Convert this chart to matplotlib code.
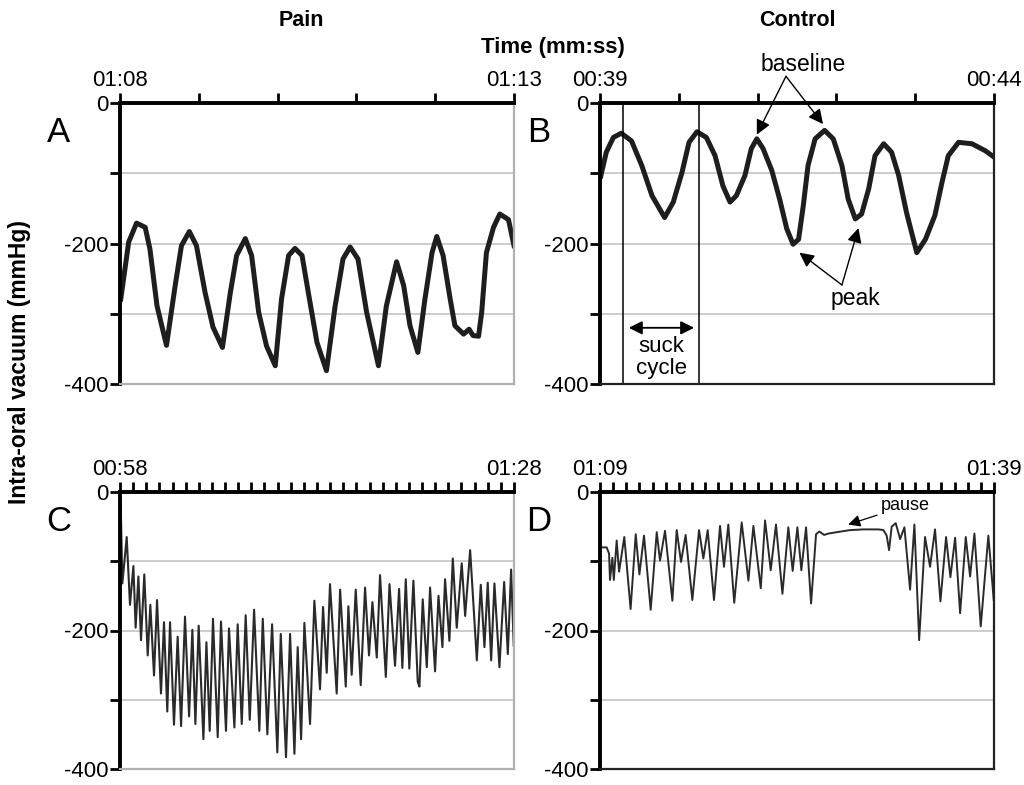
import matplotlib
matplotlib.use('Agg')
import matplotlib.pyplot as plt

plt.rcParams['font.family'] = ['Liberation Sans', 'DejaVu Sans']

# panel A - Pain, 01:08-01:13 (seconds from start, mmHg)
a_t = [0.01, 0.11, 0.21, 0.32, 0.38, 0.47, 0.59, 0.70, 0.78, 0.88, 0.97, 1.08, 1.18, 1.30,
       1.40, 1.48, 1.59, 1.67, 1.76, 1.86, 1.97, 2.05, 2.14, 2.22, 2.31, 2.39, 2.50, 2.62,
       2.73, 2.83, 2.92, 3.02, 3.13, 3.28, 3.38, 3.51, 3.60, 3.68, 3.78, 3.87, 3.96, 4.02,
       4.10, 4.19, 4.25, 4.36, 4.43, 4.48, 4.55, 4.59, 4.65, 4.74, 4.82, 4.93, 5.00]
a_v = [-279, -198, -171, -177, -208, -289, -345, -260, -203, -183, -203, -270, -319, -348,
       -270, -217, -193, -217, -298, -346, -374, -279, -217, -207, -217, -270, -341, -381,
       -289, -222, -205, -222, -298, -374, -289, -226, -260, -317, -355, -279, -213, -190,
       -217, -279, -317, -329, -322, -331, -332, -298, -213, -177, -158, -166, -203]

# panel B - Control, 00:39-00:44
b_t = [0.01, 0.08, 0.17, 0.27, 0.40, 0.53, 0.66, 0.82, 0.93, 1.04, 1.13, 1.23, 1.35, 1.46,
       1.56, 1.65, 1.73, 1.84, 1.92, 1.99, 2.07, 2.18, 2.28, 2.37, 2.45, 2.52, 2.58, 2.64,
       2.73, 2.85, 2.96, 3.07, 3.15, 3.24, 3.32, 3.41, 3.49, 3.60, 3.70, 3.79, 3.89, 4.02,
       4.13, 4.25, 4.34, 4.42, 4.55, 4.72, 4.89, 5.00]
b_v = [-104, -70, -49, -43, -54, -89, -132, -163, -141, -99, -56, -41, -49, -75,
       -118, -141, -132, -103, -65, -51, -65, -96, -137, -179, -201, -194, -146, -89,
       -51, -39, -51, -89, -137, -165, -158, -122, -75, -58, -70, -103, -156, -213,
       -194, -160, -113, -75, -56, -58, -68, -77]

# panel C - Pain, 00:58-01:28
c_t = [0.05, 0.18, 0.51, 0.76, 1.02, 1.19, 1.40, 1.60, 1.85, 2.11, 2.31, 2.59, 2.82, 3.12,
       3.35, 3.60, 3.81, 4.11, 4.39, 4.65, 4.95, 5.26, 5.51, 5.74, 5.99, 6.35, 6.58, 6.83,
       7.08, 7.44, 7.69, 8.07, 8.30, 8.71, 8.96, 9.27, 9.57, 9.88, 10.21, 10.61, 10.87, 11.22,
       11.58, 11.98, 12.24, 12.64, 12.95, 13.28, 13.53, 13.79, 14.04, 14.47, 14.80, 15.23, 15.46, 15.74,
       15.99, 16.50, 16.76, 17.19, 17.39, 17.64, 17.95, 18.33, 18.66, 18.96, 19.22, 19.55, 19.80, 20.24,
       20.52, 20.94, 21.25, 21.50, 21.76, 22.03, 22.34, 22.67, 22.80, 23.05, 23.36, 23.61, 23.99, 24.25,
       24.55, 24.75, 25.08, 25.34, 25.64, 26.02, 26.28, 26.66, 27.17, 27.47, 27.75, 28.00, 28.26, 28.51,
       28.89, 29.25, 29.53, 29.78, 29.98]
c_v = [-15, -132, -65, -163, -107, -196, -122, -214, -119, -236, -163, -265, -156, -291,
       -188, -317, -188, -336, -209, -338, -180, -324, -199, -335, -193, -357, -217, -345,
       -183, -354, -187, -345, -197, -340, -191, -335, -178, -329, -170, -345, -183, -350,
       -191, -376, -205, -383, -205, -378, -224, -357, -189, -335, -157, -285, -166, -261,
       -133, -291, -141, -281, -165, -264, -141, -279, -138, -236, -159, -239, -120, -267,
       -133, -251, -140, -254, -126, -255, -128, -274, -281, -155, -253, -138, -259, -150,
       -224, -126, -215, -96, -196, -103, -179, -84, -243, -134, -224, -131, -243, -132,
       -253, -130, -234, -112, -222]

# panel D - Control, 01:09-01:39
d_t = [0.0, 0.51, 0.69, 0.76, 0.94, 1.05, 1.27, 1.45, 1.85, 2.33, 2.72, 3.00, 3.35, 3.86,
       4.32, 4.57, 4.95, 5.51, 5.84, 6.17, 6.52, 7.03, 7.54, 7.87, 8.20, 8.68, 9.14, 9.44,
       9.77, 10.22, 10.79, 11.30, 11.68, 12.24, 12.57, 13.00, 13.40, 13.89, 14.34, 14.67, 15.03, 15.33,
       15.69, 16.07, 16.45, 16.70, 17.06, 17.39, 18.03, 19.04, 20.05, 21.20, 21.58, 21.83, 22.01, 22.21,
       22.52, 22.85, 23.18, 23.61, 23.94, 24.30, 24.75, 25.13, 25.51, 25.92, 26.35, 26.68, 27.04, 27.42,
       27.85, 28.18, 28.51, 28.99, 29.57, 29.98]
d_v = [-80, -80, -89, -127, -95, -127, -70, -115, -65, -169, -61, -119, -63, -170,
       -58, -99, -56, -157, -55, -101, -62, -156, -55, -96, -55, -156, -49, -108,
       -47, -160, -44, -128, -49, -139, -41, -113, -47, -147, -51, -114, -51, -113,
       -51, -161, -61, -57, -62, -60, -58, -55, -54, -54, -55, -63, -84, -50,
       -45, -68, -51, -141, -47, -214, -65, -108, -54, -158, -65, -123, -66, -175,
       -65, -122, -60, -194, -63, -156]

y_ticks = [0, -100, -200, -300, -400]
y_labels = ['0', '', '-200', '', '-400']
time_ends = {'A': ('01:08', '01:13'), 'B': ('00:39', '00:44'),
             'C': ('00:58', '01:28'), 'D': ('01:09', '01:39')}

fig = plt.figure(figsize=(10.24, 7.85), dpi=100)
W, H = 1024, 785
# left, top, height in pixels
boxes = {'A': (120, 103, 281), 'B': (600, 103, 281),
         'C': (120, 492, 277), 'D': (600, 492, 277)}
axes = {}
for key, (x0, y0, h) in boxes.items():
    axes[key] = fig.add_axes([x0 / W, 1 - (y0 + h) / H, 394 / W, h / H])


def style(ax, key, span, dark_frame):
    ax.set_xlim(0, span)
    ax.set_ylim(-400, 0)
    ax.xaxis.tick_top()
    ax.set_xticks(range(span + 1))
    labels = [''] * (span + 1)
    labels[0], labels[-1] = time_ends[key]
    ax.set_xticklabels(labels)
    ax.set_yticks(y_ticks)
    ax.set_yticklabels(y_labels)
    ax.tick_params(axis='x', direction='out', length=7, width=2, labelsize=16, pad=1.5)
    ax.tick_params(axis='y', direction='out', length=7, width=2, labelsize=16, pad=1)
    ax.yaxis.grid(True, color='#c4c4c4', lw=1.2)
    ax.set_axisbelow(True)
    for s in ['top', 'left']:
        ax.spines[s].set_linewidth(2.8)
        ax.spines[s].set_color('black')
    for s in ['right', 'bottom']:
        ax.spines[s].set_linewidth(1.6)
        ax.spines[s].set_color('#222222' if dark_frame else '#b0b0b0')
    ax.text(-0.155, 0.895, key, transform=ax.transAxes, fontsize=25,
            ha='center', va='center')


style(axes['A'], 'A', 5, False)
style(axes['B'], 'B', 5, True)
style(axes['C'], 'C', 30, False)
style(axes['D'], 'D', 30, True)

axes['A'].plot(a_t, a_v, color='#1e1e1e', lw=3.6, solid_joinstyle='round')
axes['B'].plot(b_t, b_v, color='#1e1e1e', lw=3.6, solid_joinstyle='round')
axes['C'].plot(c_t, c_v, color='#2a2a2a', lw=1.5)
axes['D'].plot(d_t, d_v, color='#2a2a2a', lw=1.4)

# annotations in B
axb = axes['B']
for x in [0.29, 1.26]:
    axb.axvline(x, color='black', lw=1.1)
axb.annotate('', xy=(0.33, -320), xytext=(1.23, -320),
             arrowprops=dict(arrowstyle='<|-|>', mutation_scale=20, lw=1.3, color='black'))
axb.text(0.78, -362, 'suck\ncycle', ha='center', va='center', fontsize=16, linespacing=1.1)
axb.text(2.58, 55, 'baseline', ha='center', va='center', fontsize=16.5, clip_on=False)
for tip in [(1.99, -45), (2.83, -30)]:
    axb.annotate('', xy=tip, xytext=(2.36, 38), annotation_clip=False,
                 arrowprops=dict(arrowstyle='-|>', mutation_scale=22, lw=1.0,
                                 color='black', shrinkA=0, shrinkB=0))
axb.text(3.24, -278, 'peak', ha='center', va='center', fontsize=16.5)
for tip in [(2.53, -213), (3.28, -178)]:
    axb.annotate('', xy=tip, xytext=(3.07, -259),
                 arrowprops=dict(arrowstyle='-|>', mutation_scale=22, lw=1.0,
                                 color='black', shrinkA=0, shrinkB=0))

# pause annotation in D
axd = axes['D']
axd.annotate('pause', xy=(18.9, -47), xytext=(21.4, -20), fontsize=13,
             ha='left', va='center',
             arrowprops=dict(arrowstyle='-|>', mutation_scale=18, lw=0.9,
                             color='black', shrinkA=1, shrinkB=0))

fig.text(301 / W, 1 - 20 / H, 'Pain', ha='center', va='center', fontsize=15.5, weight='bold')
fig.text(797 / W, 1 - 20 / H, 'Control', ha='center', va='center', fontsize=15.5, weight='bold')
fig.text(553 / W, 1 - 47 / H, 'Time (mm:ss)', ha='center', va='center', fontsize=16, weight='bold')
fig.text(20 / W, 1 - 362 / H, 'Intra-oral vacuum (mmHg)', ha='center', va='center',
         rotation=90, fontsize=16.5, weight='bold')

fig.savefig('out.png', dpi=100)
